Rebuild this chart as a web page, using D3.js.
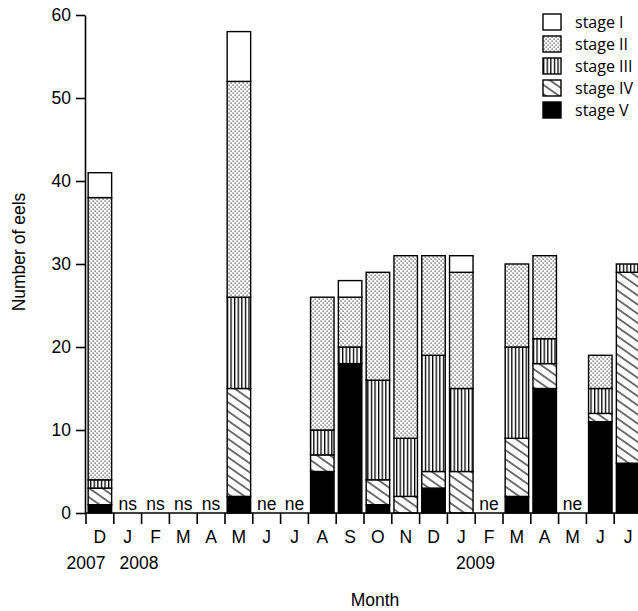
<!DOCTYPE html>
<html>
<head>
<meta charset="utf-8">
<script src="https://cdn.jsdelivr.net/npm/d3@7"></script>
<style>
  body { margin: 0; background: #fff; }
  svg { display: block; }
  text { font-family: "Liberation Sans", Arial, sans-serif; fill: #000; }
</style>
</head>
<body>
<div id="chart"></div>
<script>
// months of sampling, Dec 2007 .. Jul 2009
var months = ["D","J","F","M","A","M","J","J","A","S","O","N","D","J","F","M","A","M","J","J"];
// ns = not sampled, ne = no eels
var notes  = ["","ns","ns","ns","ns","","ne","ne","","","","","","","ne","","","ne","",""];
var years  = ["2007","2008","2009"];

// counts per stage for each month
var stageI   = [3,0,0,0,0,6,0,0,0,2,0,0,0,2,0,0,0,0,0,0];
var stageII  = [34,0,0,0,0,26,0,0,16,6,13,22,12,14,0,10,10,0,4,0];
var stageIII = [1,0,0,0,0,11,0,0,3,2,12,7,14,10,0,11,3,0,3,1];
var stageIV  = [2,0,0,0,0,13,0,0,2,0,3,2,2,5,0,7,3,0,1,23];
var stageV   = [1,0,0,0,0,2,0,0,5,18,1,0,3,0,0,2,15,0,11,6];

var stageNames = ["stage I","stage II","stage III","stage IV","stage V"];

var width = 638, height = 611;

var svg = d3.select("#chart").append("svg")
    .attr("width", width)
    .attr("height", height);

// fill patterns
var defs = svg.append("defs");

var dots = defs.append("pattern").attr("id", "pDots")
    .attr("patternUnits", "userSpaceOnUse")
    .attr("width", 4).attr("height", 4);
dots.append("rect").attr("width", 4).attr("height", 4).attr("fill", "#fff");
dots.append("rect").attr("x", 0.5).attr("y", 0.5).attr("width", 1.2).attr("height", 1.2).attr("fill", "#333");
dots.append("rect").attr("x", 2.5).attr("y", 2.5).attr("width", 1.2).attr("height", 1.2).attr("fill", "#333");

var vlines = defs.append("pattern").attr("id", "pVert")
    .attr("patternUnits", "userSpaceOnUse")
    .attr("width", 3.6).attr("height", 4);
vlines.append("rect").attr("width", 3.6).attr("height", 4).attr("fill", "#fff");
vlines.append("rect").attr("x", 0).attr("width", 1.3).attr("height", 4).attr("fill", "#000");

var diag = defs.append("pattern").attr("id", "pDiag")
    .attr("patternUnits", "userSpaceOnUse")
    .attr("width", 8).attr("height", 7.5)
    .attr("patternTransform", "rotate(35)");
diag.append("rect").attr("width", 8).attr("height", 7.5).attr("fill", "#fff");
diag.append("line").attr("x1", 0).attr("x2", 8).attr("y1", 3.75).attr("y2", 3.75)
    .attr("stroke", "#000").attr("stroke-width", 1.1);

var fills = {
  "stage I": "#fff",
  "stage II": "url(#pDots)",
  "stage III": "url(#pVert)",
  "stage IV": "url(#pDiag)",
  "stage V": "#000"
};

// table for the stack
var table = months.map(function(m, i) {
  return {
    idx: i,
    "stage I": stageI[i], "stage II": stageII[i], "stage III": stageIII[i],
    "stage IV": stageIV[i], "stage V": stageV[i]
  };
});

var x = d3.scaleBand()
    .domain(d3.range(months.length))
    .range([86, 86 + 27.8 * months.length])
    .paddingInner(0.155)
    .paddingOuter(0.0775);

var y = d3.scaleLinear()
    .domain([0, 60])
    .range([513, 15]);

var stack = d3.stack().keys(["stage V","stage IV","stage III","stage II","stage I"]);
var series = stack(table);

// bars
svg.append("g").selectAll("g")
  .data(series)
  .enter().append("g")
    .attr("fill", function(d) { return fills[d.key]; })
  .selectAll("rect")
  .data(function(d) { return d.filter(function(p) { return p[1] - p[0] > 0; }); })
  .enter().append("rect")
    .attr("x", function(d) { return x(d.data.idx); })
    .attr("y", function(d) { return y(d[1]); })
    .attr("width", x.bandwidth())
    .attr("height", function(d) { return y(d[0]) - y(d[1]); })
    .attr("stroke", "#000")
    .attr("stroke-width", 1.4);

// y axis
var yAxis = svg.append("g")
    .attr("transform", "translate(85,0)")
    .call(d3.axisLeft(y).tickValues([0,10,20,30,40,50,60]).tickSize(9).tickSizeOuter(0).tickPadding(5));
yAxis.select(".domain").attr("stroke-width", 1.6);
yAxis.selectAll(".tick line").attr("stroke-width", 1.6);
yAxis.selectAll("text").style("font-size", "17.5px").style("font-family", "'Liberation Sans', Arial, sans-serif").attr("fill", "#000");

// x axis: baseline, ticks at month boundaries
var half = (x.step() - x.bandwidth()) / 2;
var xg = svg.append("g");
xg.append("line")
    .attr("x1", 85).attr("x2", width)
    .attr("y1", y(0)).attr("y2", y(0))
    .attr("stroke", "#000").attr("stroke-width", 1.6);
xg.selectAll(".xtick")
  .data(d3.range(months.length))
  .enter().append("line")
    .attr("class", "xtick")
    .attr("x1", function(i) { return x(i) - half; })
    .attr("x2", function(i) { return x(i) - half; })
    .attr("y1", y(0)).attr("y2", y(0) + 11)
    .attr("stroke", "#000").attr("stroke-width", 1.6);

xg.selectAll(".mlab")
  .data(months)
  .enter().append("text")
    .attr("class", "mlab")
    .attr("x", function(d, i) { return x(i) + x.bandwidth() / 2; })
    .attr("y", 543)
    .attr("text-anchor", "middle")
    .style("font-size", "17.5px")
    .text(function(d) { return d; });

// ns / ne labels
svg.selectAll(".note")
  .data(notes)
  .enter().append("text")
    .attr("class", "note")
    .attr("x", function(d, i) { return x(i) + x.bandwidth() / 2; })
    .attr("y", y(0) - 3)
    .attr("text-anchor", "middle")
    .style("font-size", "17.5px")
    .text(function(d) { return d; });

// year labels
var yearPos = [x(0) - half, x(1) + 23, x(13) + 26];
svg.selectAll(".year")
  .data(years)
  .enter().append("text")
    .attr("class", "year")
    .attr("x", function(d, i) { return yearPos[i]; })
    .attr("y", 569)
    .attr("text-anchor", "middle")
    .style("font-size", "17.5px")
    .text(function(d) { return d; });

// axis titles
svg.append("text")
    .attr("x", 375).attr("y", 606)
    .attr("text-anchor", "middle")
    .style("font-size", "17.5px")
    .text("Month");

svg.append("text")
    .attr("transform", "translate(25,252) rotate(-90)")
    .attr("text-anchor", "middle")
    .style("font-size", "17.5px")
    .text("Number of eels");

// legend
var legend = svg.append("g").selectAll("g")
  .data(stageNames)
  .enter().append("g")
    .attr("transform", function(d, i) { return "translate(543," + (14 + i * 22) + ")"; });
legend.append("rect")
    .attr("width", 18).attr("height", 16)
    .attr("fill", function(d) { return fills[d]; })
    .attr("stroke", "#000").attr("stroke-width", 1.4);
legend.append("text")
    .attr("x", 32).attr("y", 14)
    .style("font-family", "'Open Sans', sans-serif")
    .style("font-size", "16px")
    .text(function(d) { return d; });
</script>
</body>
</html>
